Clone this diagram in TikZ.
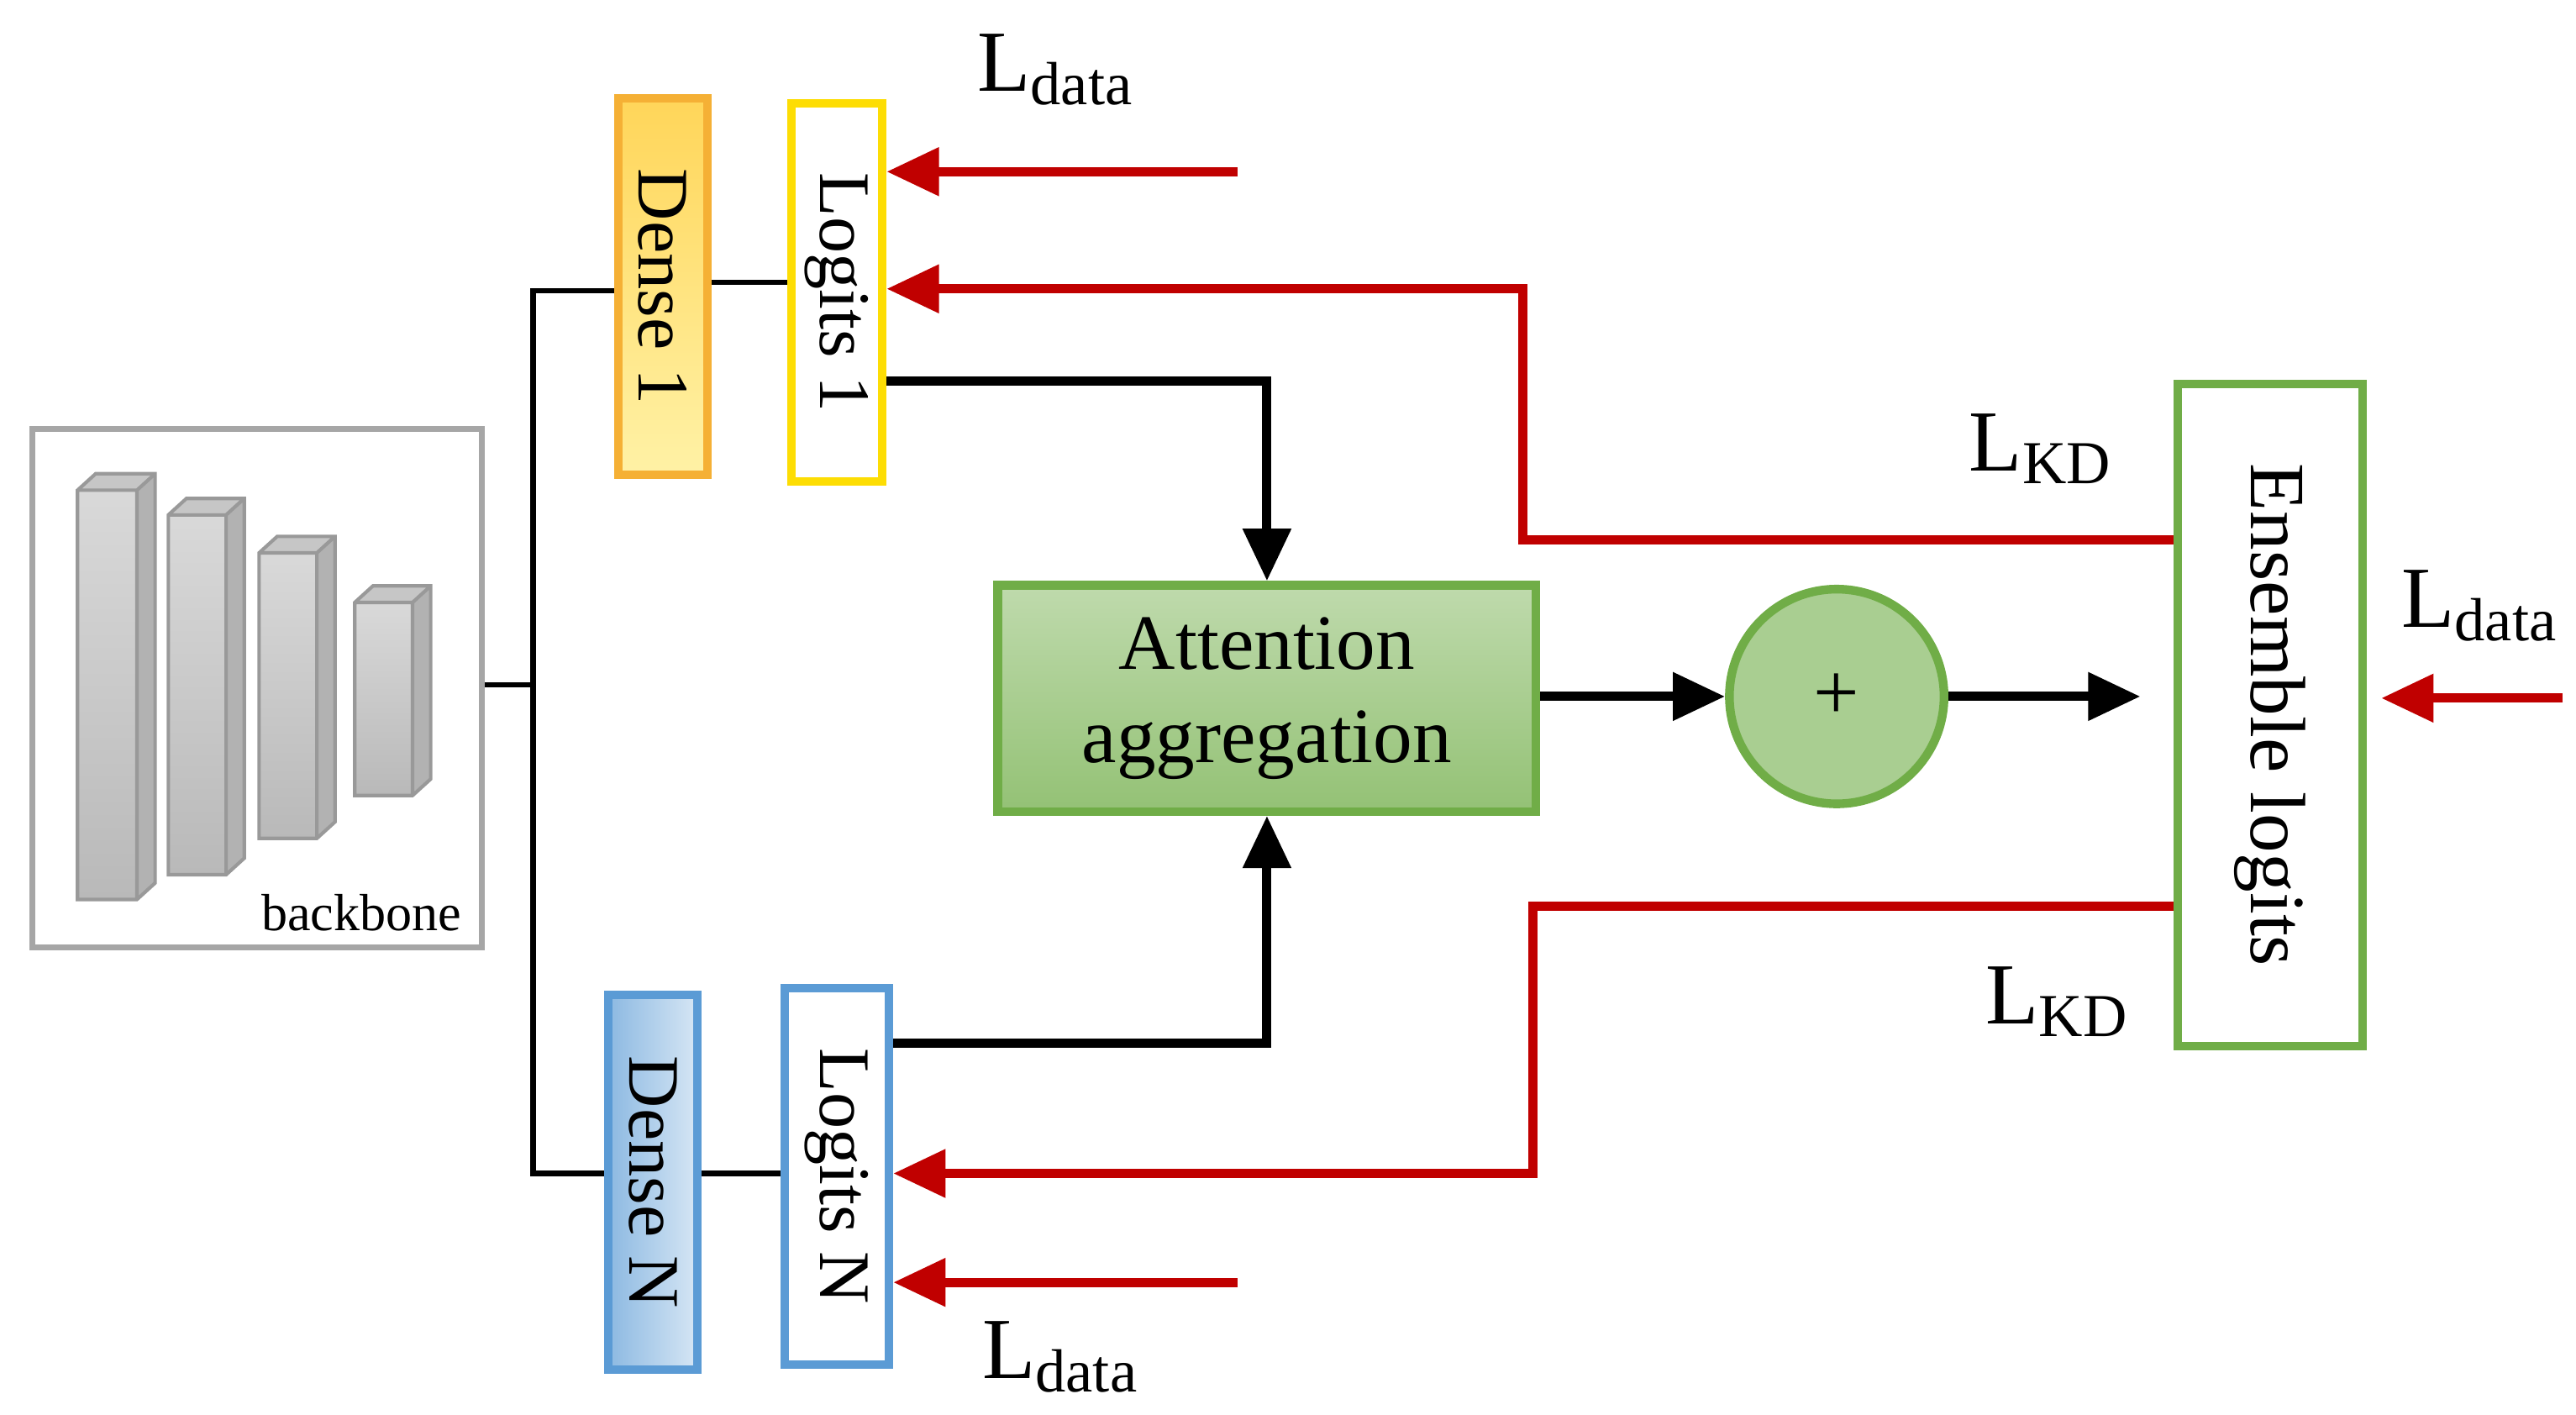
\documentclass[tikz,border=0pt]{standalone}
\usepackage{fontspec}
\setmainfont{Liberation Serif}
\usetikzlibrary{arrows.meta}
\definecolor{kred}{HTML}{C00000}
\definecolor{gbord}{HTML}{70AD47}
\definecolor{obord}{HTML}{F5B035}
\definecolor{bbord}{HTML}{5B9BD5}
\begin{document}
\begin{tikzpicture}[x=0.01cm,y=-0.01cm,
  box/.style={draw,line width=1.5pt,inner sep=0pt},
  lab/.style={font=\fontsize{12.5pt}{14pt}\selectfont,rotate=-90},
  loss/.style={font=\fontsize{15pt}{17pt}\selectfont},
  blk/.style={line width=1.6pt,-{Triangle[length=9pt,width=8pt]}},
  red/.style={kred,line width=1.6pt,-{Triangle[length=9pt,width=8pt]}},
  thin/.style={line width=0.9pt}]
\useasboundingbox (0,0) rectangle (1561,857);
% backbone
\node[draw=gray!70,line width=1pt,minimum width=2.72cm,minimum height=3.14cm,anchor=north west,inner sep=0pt] (bb) at (18,258) {};
\foreach \xa/\xb/\ya/\yb in {47/83/297/545,102/137/312/530,157/192/335/508,215/250/365/482}{
  \fill[gray!45] (\xa,\ya) -- (\xa+11,\ya-10) -- (\xb+11,\ya-10) -- (\xb,\ya) -- cycle;
  \fill[gray!60] (\xb,\ya) -- (\xb+11,\ya-10) -- (\xb+11,\yb-10) -- (\xb,\yb) -- cycle;
  \shade[top color=gray!30,bottom color=gray!55] (\xa,\ya) rectangle (\xb,\yb);
  \draw[gray!80,line width=0.6pt] (\xa,\ya) -- (\xa+11,\ya-10) -- (\xb+11,\ya-10) -- (\xb+11,\yb-10) -- (\xb,\yb) -- (\xa,\yb) -- cycle (\xa,\ya)--(\xb,\ya)--(\xb,\yb) (\xb,\ya)--(\xb+11,\ya-10);
}
\node[font=\fontsize{9pt}{10pt}\selectfont] (bbt) at (219,553) {backbone};
% dense/logits
\node[box,draw=obord,top color=orange!50!yellow!65,bottom color=orange!30!yellow!35,minimum width=0.54cm,minimum height=2.28cm,anchor=north west] (d1) at (372,57) {};
\node[lab] at (d1.center) {Dense 1};
\node[box,draw=yellow!80!orange,fill=white,minimum width=0.55cm,minimum height=2.29cm,anchor=north west] (l1) at (477,60) {};
\node[lab] at (l1.center) {Logits 1};
\node[box,draw=bbord,left color=bbord!70,right color=bbord!25,minimum width=0.54cm,minimum height=2.27cm,anchor=north west] (dn) at (366,600) {};
\node[lab] at (dn.center) {Dense N};
\node[box,draw=bbord,fill=white,minimum width=0.63cm,minimum height=2.28cm,anchor=north west] (ln) at (473,596) {};
\node[lab] at (ln.center) {Logits N};
% tree
\coordinate (t0) at (323,415);
\draw[thin] (bb.east|-t0) -- (t0);
\draw[thin] (d1.west|-0,176) -- (323,176) -- (323,711) -- (dn.west|-0,711);
\draw[thin] (d1.east|-0,171) -- (l1.west|-0,171);
\draw[thin] (dn.east|-0,711) -- (ln.west|-0,711);
% attention
\node[box,draw=gbord,top color=gbord!45,bottom color=gbord!75,minimum width=3.26cm,minimum height=1.37cm,anchor=north west] (att) at (602,352) {};
\node[align=center,font=\fontsize{13.5pt}{16pt}\selectfont] at (att.center) {Attention\\aggregation};
\node[circle,draw=gbord,line width=1.5pt,fill=gbord!60,minimum size=1.30cm,inner sep=0pt,font=\fontsize{14pt}{16pt}\selectfont] (plus) at (1113,422) {+};
\node[box,draw=gbord,fill=white,minimum width=1.12cm,minimum height=4.01cm,anchor=north west] (ens) at (1317,230) {};
\node[lab,font=\fontsize{13.5pt}{15pt}\selectfont] at (ens.center) {Ensemble logits};
% black arrows
\draw[blk] (l1.east|-0,231) -- (att.north|-0,231) -- (att.north);
\draw[blk] (ln.east|-0,632) -- (att.south|-0,632) -- (att.south);
\draw[blk] (att.east|-plus) -- (plus.west);
\coordinate (ea) at (1297,422);
\draw[blk] (plus.east) -- (ea);
% red arrows
\coordinate (r1) at (750,104); \coordinate (r2) at (750,777); \coordinate (r3) at (1553,423);
\draw[red] (r1) -- (l1.east|-r1);
\draw[red] (ens.west|-0,327) -- (923,327) -- (923,175) -- (l1.east|-0,175);
\draw[red] (ens.west|-0,549) -- (929,549) -- (929,711) -- (ln.east|-0,711);
\draw[red] (r2) -- (ln.east|-r2);
\draw[red] (r3) -- (1443,423);
% labels
\node[loss] (a) at (640,42) {L\textsubscript{data}};
\node[loss] (b) at (1237,272) {L\textsubscript{KD}};
\node[loss] (c) at (1503,367) {L\textsubscript{data}};
\node[loss] (d) at (1247,607) {L\textsubscript{KD}};
\node[loss] (e) at (643,822) {L\textsubscript{data}};
\end{tikzpicture}
\end{document}
